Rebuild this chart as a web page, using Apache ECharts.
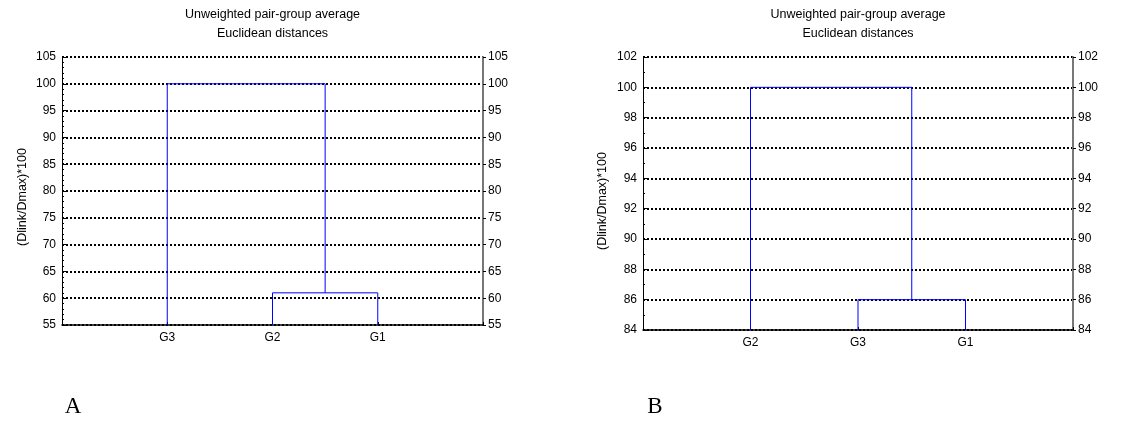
<!DOCTYPE html>
<html>
<head>
<meta charset="utf-8">
<script src="https://cdn.jsdelivr.net/npm/echarts@6/dist/echarts.min.js"></script>
<style>
  html, body { margin: 0; padding: 0; background: #fff; }
  #main { width: 1141px; height: 421px; }
</style>
</head>
<body>
<div id="main"></div>
<script>
// panel A: leaf order left to right, and linkage heights
var leavesA = ['G3', 'G2', 'G1'];
var linkA = [61, 100];      // G2+G1 join first, then G3 joins them
var ticksA = { min: 55, max: 105, step: 5 };

// panel B
var leavesB = ['G2', 'G3', 'G1'];
var linkB = [86, 100];      // G3+G1 join first, then G2
var ticksB = { min: 84, max: 102, step: 2 };

var titleLines = ['Unweighted pair-group average', 'Euclidean distances'];
var yName = '(Dlink/Dmax)*100';
var panelLabels = ['A', 'B'];

var font = "'Liberation Sans', Arial, sans-serif";
var serif = "'Liberation Serif', 'DejaVu Serif', serif";

// dendrogram branches for three leaves at x = 1,2,3
function branches(link, base) {
    var mid = 2.5;
    return [
        { coords: [[1, base], [1, link[1]], [mid, link[1]], [mid, link[0]]] },
        { coords: [[2, base], [2, link[0]], [3, link[0]], [3, base]] }
    ];
}

var grids = [
    { left: 62, top: 57, width: 421, height: 268 },
    { left: 643, top: 57, width: 430, height: 273 }
];

function xAxis(idx, leaves) {
    return {
        gridIndex: idx, type: 'value', min: 0, max: 4, interval: 1,
        axisLine: { show: true, lineStyle: { color: '#000', width: 1.5 } },
        axisTick: { show: true, inside: true, length: 3, lineStyle: { color: '#000' } },
        splitLine: { show: false },
        axisLabel: {
            color: '#000', fontFamily: font, fontSize: 12, margin: 7,
            formatter: function (v) { return leaves[v - 1] || ''; }
        }
    };
}

function yAxes(idx, t, minorN) {
    var common = {
        gridIndex: idx, type: 'value', min: t.min, max: t.max, interval: t.step
    };
    return [
        Object.assign({}, common, {
            position: 'left',
            axisLine: { show: true, lineStyle: { color: '#000', width: 1 } },
            axisTick: { show: true, inside: true, length: 4, lineStyle: { color: '#000' } },
            minorTick: { show: true, splitNumber: minorN, length: 2, lineStyle: { color: '#000' } },
            axisLabel: { color: '#000', fontFamily: font, fontSize: 12, margin: 6 },
            splitLine: { show: true, lineStyle: { color: '#000', width: 2, type: [2, 2] } }
        }),
        Object.assign({}, common, {
            position: 'right',
            axisLine: { show: true, lineStyle: { color: '#777', width: 2 } },
            axisTick: { show: true, inside: false, length: 3, lineStyle: { color: '#000' } },
            axisLabel: { color: '#000', fontFamily: font, fontSize: 12, margin: 5 },
            splitLine: { show: false }
        })
    ];
}

function txt(x, y, text, size, family, extra) {
    return Object.assign({
        type: 'text', x: x, y: y,
        style: {
            text: text, fontSize: size, fontFamily: family, fill: '#000',
            textAlign: 'center', textVerticalAlign: 'middle'
        }
    }, extra || {});
}

var graphics = [];
grids.forEach(function (g, i) {
    var cx = g.left + g.width / 2;
    graphics.push(txt(cx, 15, titleLines[0], 12.5, font));
    graphics.push(txt(cx, 34, titleLines[1], 12.5, font));
});
graphics.push(txt(23, 197, yName, 12.5, font, { rotation: Math.PI / 2 }));
graphics.push(txt(603, 201, yName, 12.5, font, { rotation: Math.PI / 2 }));
graphics.push(txt(73, 407, panelLabels[0], 23, serif));
graphics.push(txt(655, 407, panelLabels[1], 23, serif));

var ya = yAxes(0, ticksA, 5);
var yb = yAxes(1, ticksB, 2);

var option = {
    animation: false,
    backgroundColor: '#fff',
    grid: grids,
    xAxis: [xAxis(0, leavesA), xAxis(1, leavesB)],
    yAxis: [ya[0], ya[1], yb[0], yb[1]],
    graphic: graphics,
    series: [
        {
            type: 'lines', coordinateSystem: 'cartesian2d', polyline: true,
            xAxisIndex: 0, yAxisIndex: 0,
            lineStyle: { color: '#0000ff', width: 1, opacity: 1 },
            data: branches(linkA, ticksA.min), z: 5
        },
        {
            type: 'lines', coordinateSystem: 'cartesian2d', polyline: true,
            xAxisIndex: 1, yAxisIndex: 2,
            lineStyle: { color: '#0000ff', width: 1, opacity: 1 },
            data: branches(linkB, ticksB.min), z: 5
        }
    ]
};

var chart = echarts.init(document.getElementById('main'));
chart.setOption(option);
</script>
</body>
</html>
